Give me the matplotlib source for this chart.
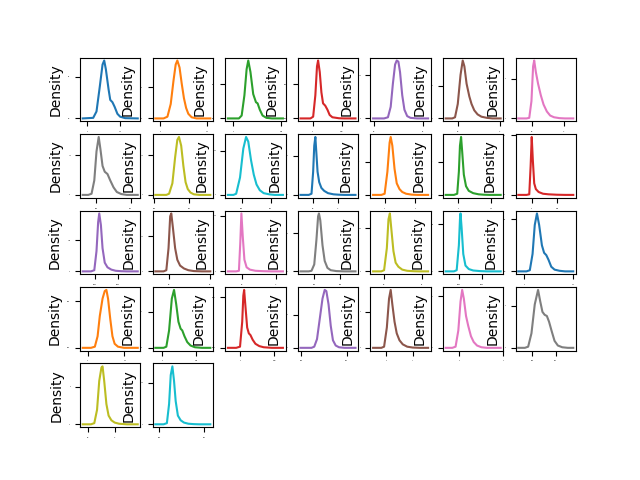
import numpy as np
import matplotlib
matplotlib.use("Agg")
import matplotlib.pyplot as plt
from matplotlib.ticker import MaxNLocator

# one density panel per feature, laid out 5 x 7
columns = ["mean radius", "mean texture", "mean perimeter", "mean area",
           "mean smoothness", "mean compactness", "mean concavity",
           "mean concave points", "mean symmetry", "mean fractal dimension",
           "radius error", "texture error", "perimeter error", "area error",
           "smoothness error", "compactness error", "concavity error",
           "concave points error", "symmetry error", "fractal dimension error",
           "worst radius", "worst texture", "worst perimeter", "worst area",
           "worst smoothness", "worst compactness", "worst concavity",
           "worst concave points", "worst symmetry", "worst fractal dimension"]

col_min = [6.981, 9.71, 43.79, 143.5, 0.05263, 0.01938, 0.0, 0.0, 0.106, 0.04996,
           0.1115, 0.3602, 0.757, 6.802, 0.001713, 0.002252, 0.0, 0.0, 0.007882, 0.0008948,
           7.93, 12.02, 50.41, 185.2, 0.07117, 0.02729, 0.0, 0.0, 0.1565, 0.05504]
col_max = [28.11, 39.28, 188.5, 2501.0, 0.1634, 0.3454, 0.4268, 0.2012, 0.304, 0.09744,
           2.873, 4.885, 21.98, 542.2, 0.03113, 0.1354, 0.396, 0.05279, 0.07895, 0.02984,
           36.04, 49.54, 251.2, 4254.0, 0.2226, 1.058, 1.252, 0.291, 0.6638, 0.2075]

# peak height of each density curve
peak_density = [0.139, 0.093, 0.017, 0.0017, 26.7, 8.9, 7.3,
                14.7, 14.7, 65.7, 2.95, 0.87, 0.35, 0.0195,
                185.0, 33.0, 20.8, 76.0, 67.0, 245.0, 0.111,
                0.062, 0.016, 0.00115, 17.6, 3.2, 2.25, 6.9,
                7.7, 28.0]

# curve shape: position across the evaluated range (0..1) and height relative to peak
shape_x = [
    [0, .19, .25, .31, .36, .39, .42, .47, .50, .54, .58, .63, .68, .77, 1],
    [0, .15, .22, .28, .33, .37, .40, .44, .48, .52, .56, .60, .66, .75, 1],
    [0, .20, .25, .30, .34, .37, .41, .46, .51, .54, .58, .63, .70, .80, 1],
    [0, .18, .23, .27, .30, .32, .35, .38, .41, .45, .49, .53, .58, .70, .80, 1],
    [0, .20, .27, .32, .36, .40, .43, .46, .49, .53, .57, .62, .68, .80, 1],
    [0, .12, .17, .22, .27, .31, .34, .38, .43, .47, .52, .58, .65, .75, .85, 1],
    [0, .15, .20, .24, .27, .29, .32, .36, .41, .46, .52, .58, .65, .75, .85, 1],
    [0, .10, .16, .21, .25, .29, .32, .36, .40, .45, .50, .56, .62, .70, .80, 1],
    [0, .20, .25, .31, .36, .40, .43, .47, .51, .55, .59, .64, .70, .80, 1],
    [0, .10, .15, .22, .28, .33, .37, .42, .47, .52, .58, .65, .75, .85, 1],
    [0, .15, .20, .23, .25, .27, .29, .31, .34, .38, .43, .50, .60, .70, .80, 1],
    [0, .15, .21, .26, .30, .32, .35, .39, .43, .48, .53, .60, .70, .80, 1],
    [0, .15, .21, .24, .26, .28, .30, .33, .37, .42, .50, .60, .70, .80, 1],
    [0, .15, .20, .225, .245, .265, .29, .32, .37, .45, .55, .70, .85, 1],
    [0, .15, .21, .25, .28, .30, .33, .36, .40, .45, .52, .60, .70, .80, 1],
    [0, .15, .20, .24, .27, .29, .32, .36, .40, .45, .52, .60, .70, .85, 1],
    [0, .15, .20, .225, .245, .27, .30, .34, .40, .50, .65, .80, 1],
    [0, .15, .20, .25, .29, .32, .335, .36, .40, .44, .49, .55, .65, .80, 1],
    [0, .15, .20, .25, .28, .305, .33, .37, .41, .46, .53, .62, .75, .85, 1],
    [0, .15, .20, .24, .26, .27, .29, .32, .36, .42, .50, .62, .75, 1],
    [0, .15, .21, .26, .30, .34, .38, .43, .47, .51, .55, .60, .66, .75, .85, 1],
    [0, .15, .22, .27, .31, .36, .40, .43, .46, .50, .54, .58, .64, .75, 1],
    [0, .15, .20, .25, .30, .34, .38, .42, .46, .49, .53, .58, .64, .72, .85, 1],
    [0, .15, .22, .26, .28, .295, .32, .35, .38, .41, .45, .50, .57, .65, .80, 1],
    [0, .20, .25, .30, .35, .40, .44, .47, .51, .55, .59, .64, .70, .80, 1],
    [0, .15, .20, .25, .29, .32, .35, .39, .43, .48, .54, .62, .72, .85, 1],
    [0, .12, .18, .23, .27, .30, .33, .37, .41, .46, .51, .57, .65, .75, 1],
    [0, .12, .18, .24, .30, .36, .40, .44, .48, .52, .56, .61, .66, .72, .80, .90, 1],
    [0, .15, .21, .26, .30, .34, .36, .39, .43, .47, .52, .58, .66, .80, 1],
    [0, .15, .21, .25, .28, .31, .34, .37, .41, .46, .52, .60, .70, .80, 1],
]
shape_y = [
    [0, .01, .12, .55, .93, 1, .85, .5, .32, .28, .2, .08, .03, .005, 0],
    [0, 0, .03, .25, .65, .93, 1, .88, .6, .35, .18, .08, .02, 0, 0],
    [0, 0, .05, .4, .85, 1, .8, .42, .28, .26, .15, .05, .01, 0, 0],
    [0, 0, .03, .4, .9, 1, .8, .45, .26, .22, .15, .06, .02, .003, 0, 0],
    [0, 0, .02, .2, .6, .93, 1, .98, .8, .4, .15, .04, .01, 0, 0],
    [0, 0, .02, .25, .75, 1, .9, .6, .38, .25, .14, .07, .03, .01, 0, 0],
    [0, 0, .01, .3, .9, 1, .8, .6, .4, .24, .12, .05, .02, .005, 0, 0],
    [0, 0, .02, .25, .75, 1, .8, .5, .4, .36, .25, .13, .05, .015, 0, 0],
    [0, 0, .02, .2, .65, .95, 1, .85, .5, .22, .1, .04, .01, 0, 0],
    [0, 0, .02, .3, .8, 1, .92, .6, .35, .18, .08, .03, .01, 0, 0],
    [0, 0, .02, .4, .85, 1, .7, .4, .22, .12, .07, .03, .01, .003, 0, 0],
    [0, 0, .02, .4, .9, 1, .85, .45, .2, .1, .05, .02, .005, 0, 0],
    [0, 0, .02, .4, .85, 1, .75, .35, .15, .07, .03, .01, .003, 0, 0],
    [0, 0, .01, .5, 1, .6, .2, .1, .05, .02, .01, .003, 0, 0],
    [0, 0, .02, .35, .85, 1, .8, .4, .15, .07, .03, .01, .003, 0, 0],
    [0, 0, .02, .4, .95, 1, .75, .4, .2, .1, .05, .02, .005, 0, 0],
    [0, 0, .01, .5, 1, .6, .2, .07, .03, .01, .003, 0, 0],
    [0, 0, .01, .12, .55, .95, 1, .88, .45, .18, .06, .02, .005, 0, 0],
    [0, 0, .02, .4, .9, 1, .75, .35, .15, .08, .03, .01, .002, 0, 0],
    [0, 0, .02, .45, .9, 1, .75, .3, .1, .04, .015, .005, 0, 0],
    [0, 0, .02, .3, .8, 1, .8, .45, .32, .28, .2, .08, .03, .01, 0, 0],
    [0, 0, .02, .2, .55, .85, .98, 1, .85, .5, .2, .07, .02, 0, 0],
    [0, 0, .02, .3, .85, 1, .75, .45, .33, .3, .2, .1, .04, .01, 0, 0],
    [0, 0, .02, .45, .9, 1, .7, .35, .25, .22, .14, .07, .03, .01, 0, 0],
    [0, 0, .02, .15, .5, .85, 1, .98, .75, .38, .13, .04, .01, 0, 0],
    [0, 0, .02, .35, .85, 1, .75, .45, .25, .13, .06, .02, .005, 0, 0],
    [0, 0, .02, .3, .8, 1, .85, .55, .38, .2, .1, .04, .01, 0, 0],
    [0, 0, .02, .25, .75, 1, .8, .62, .57, .55, .45, .28, .12, .04, .01, 0, 0],
    [0, 0, .02, .25, .75, .98, 1, .75, .35, .15, .07, .03, .01, 0, 0],
    [0, 0, .02, .35, .85, 1, .75, .4, .15, .07, .03, .01, .003, 0, 0],
]

fig, axes = plt.subplots(5, 7, figsize=(6.4, 4.8), dpi=100)

for i, ax in enumerate(axes.flat):
    if i >= len(columns):
        ax.set_visible(False)
        continue
    lo, hi = col_min[i], col_max[i]
    span = hi - lo
    xs = (lo - 0.5 * span) + np.array(shape_x[i]) * 2 * span
    ys = np.array(shape_y[i]) * peak_density[i]
    ax.plot(xs, ys, color="C%d" % (i % 10), label=columns[i])
    ax.set_ylabel("Density")
    ax.xaxis.set_major_locator(MaxNLocator(nbins=1, steps=[1, 2, 2.5, 5, 10]))
    ax.yaxis.set_major_locator(MaxNLocator(nbins=2, steps=[1, 2, 2.5, 5, 10]))
    ax.tick_params(labelsize=1)

plt.savefig("out.png")
